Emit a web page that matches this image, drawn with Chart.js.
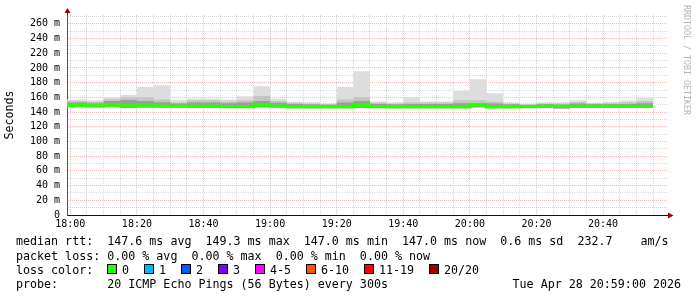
<!DOCTYPE html>
<html>
<head>
<meta charset="utf-8">
<title>SmokePing latency</title>
<script src="https://cdn.jsdelivr.net/npm/chart.js@4.4.1/dist/chart.umd.min.js"></script>
<style>
    html, body { margin: 0; padding: 0; background: #ffffff; }
    #pingChart { display: block; }
</style>
</head>
<body>
<canvas id="pingChart" width="697" height="297"></canvas>
<script>
// 5 minute bins, values in ms
const binStarts = [
    '18:00', '18:05', '18:10', '18:15', '18:20', '18:25', '18:30', '18:35', '18:40', '18:45', '18:50', '18:55',
    '19:00', '19:05', '19:10', '19:15', '19:20', '19:25', '19:30', '19:35', '19:40', '19:45', '19:50', '19:55',
    '20:00', '20:05', '20:10', '20:15', '20:20', '20:25', '20:30', '20:35', '20:40', '20:45', '20:50'
];
const pingMax = [
    157, 156, 160, 163.5, 174, 176.5, 156, 158.5, 158.5, 157, 161.5, 175,
    158, 154, 153, 152, 174, 195.5, 154.5, 153, 160.5, 154.5, 154.5, 168.5,
    184.5, 165.5, 153, 151.5, 153, 153, 156, 152.5, 154, 155.8, 159
];
const pingHigh = [
    155, 154, 157.5, 160, 160, 157, 153, 156, 156, 154.5, 156, 162,
    155, 152.5, 151.5, 151, 157, 160, 152.5, 151.5, 153, 152.5, 152.5, 156,
    156, 154, 151.5, 150.5, 151.5, 151.5, 153.5, 151.5, 152, 153, 155
];
const pingUpper = [
    153, 152, 155, 156.5, 155, 153.5, 151.5, 153, 153, 152, 153, 155,
    152.5, 151, 150.5, 150, 153, 155, 151, 150.5, 151, 151, 151, 152,
    152, 151.5, 150.5, 149.5, 150.5, 150, 151.5, 150.5, 150.5, 151, 152
];
const pingMedian = [
    149, 148.5, 149.3, 148.5, 148.4, 148.2, 148, 148, 148, 147.5, 147.5, 149,
    148.2, 147.2, 147.1, 147.1, 147.2, 149, 147.5, 147.1, 147.2, 147.2, 147.2, 147.2,
    149.3, 147.2, 147.2, 147.5, 147.8, 147.8, 147.8, 147.8, 147.8, 147.8, 147.8
];
const pingLower = [
    147.5, 147, 147.5, 145.5, 146.5, 146.5, 146.5, 146, 146, 146, 146, 147,
    146.5, 146, 146, 146, 146, 145.5, 146, 146, 146, 146, 146, 146,
    146.5, 146, 146, 146, 146, 145, 146, 146, 146, 146, 146
];
const pingMin = [
    146.5, 146, 146.5, 145, 145.5, 145.5, 145.5, 145.5, 145.5, 145.5, 145.5, 146,
    146, 145.5, 145.5, 145.5, 145.5, 145, 145.5, 145.5, 145.5, 145.5, 145.5, 145.5,
    145.5, 145.5, 145.5, 145.5, 145.5, 144.8, 145.5, 145.5, 145.5, 145.5, 145.5
];
const xTickLabels = ['18:00', '18:20', '18:40', '19:00', '19:20', '19:40', '20:00', '20:20', '20:40'];
const yTickLabels = ['0', '20 m', '40 m', '60 m', '80 m', '100 m', '120 m', '140 m', '160 m', '180 m', '200 m', '220 m', '240 m', '260 m'];
const lossLabels = ['0', '1', '2', '3', '4-5', '6-10', '11-19', '20/20'];
const lossColors = ['#26ff00', '#00b8ff', '#0059ff', '#7e00ff', '#ff00ff', '#ff5500', '#ff0000', '#a00000'];

const legendLines = [
    'median rtt:  147.6 ms avg  149.3 ms max  147.0 ms min  147.0 ms now  0.6 ms sd  232.7    am/s',
    'packet loss: 0.00 % avg  0.00 % max  0.00 % min  0.00 % now',
    'loss color:',
    'probe:       20 ICMP Echo Pings (56 Bytes) every 300s'
];
const stampText = 'Tue Apr 28 20:59:00 2026';

const X_MIN = -1;
const X_MAX = 179.5;
const BIN_MINUTES = 5;
const MONO = '"DejaVu Sans Mono", "Liberation Mono", monospace';
const MAJOR_GRID = 'rgba(255, 0, 0, 0.27)';
const MINOR_GRID = 'rgba(110, 110, 110, 0.26)';

function toMinutes(label) {
    const parts = label.split(':');
    return (parseInt(parts[0], 10) - 18) * 60 + parseInt(parts[1], 10);
}

function stepPoints(values) {
    const points = binStarts.map((label, i) => ({
        x: i === 0 ? X_MIN : toMinutes(label),
        y: values[i]
    }));
    const last = binStarts.length - 1;
    points.push({ x: toMinutes(binStarts[last]) + BIN_MINUTES, y: values[last] });
    return points;
}

function bandDatasets(upper, lower, color, upperIndex) {
    const common = {
        stepped: true,
        borderWidth: 0,
        borderColor: 'transparent',
        pointRadius: 0
    };
    return [
        Object.assign({ data: stepPoints(upper), fill: upperIndex + 1, backgroundColor: color }, common),
        Object.assign({ data: stepPoints(lower), fill: false, backgroundColor: color }, common)
    ];
}

const overlayPlugin = {
    id: 'smokeOverlay',
    afterDraw(chart) {
        const ctx = chart.ctx;
        const area = chart.chartArea;
        ctx.save();

        // axis arrows
        ctx.strokeStyle = '#333333';
        ctx.lineWidth = 1;
        ctx.beginPath();
        ctx.moveTo(67.5, area.top);
        ctx.lineTo(67.5, 12);
        ctx.moveTo(area.right, area.bottom + 0.5);
        ctx.lineTo(669, area.bottom + 0.5);
        ctx.stroke();
        ctx.fillStyle = '#990000';
        ctx.beginPath();
        ctx.moveTo(64.5, 13);
        ctx.lineTo(70.5, 13);
        ctx.lineTo(67.5, 8);
        ctx.closePath();
        ctx.fill();
        ctx.beginPath();
        ctx.moveTo(668, 212.5);
        ctx.lineTo(668, 218.5);
        ctx.lineTo(673.5, 215.5);
        ctx.closePath();
        ctx.fill();

        // legend block
        ctx.fillStyle = '#000000';
        ctx.font = '11.66px ' + MONO;
        ctx.textBaseline = 'alphabetic';
        ctx.textAlign = 'left';
        const baselines = [245, 259.5, 273.5, 288];
        legendLines.forEach((line, i) => ctx.fillText(line, 16, baselines[i]));
        ctx.textAlign = 'right';
        ctx.fillText(stampText, 681, baselines[3]);

        const swatchX = [107, 144, 181, 218, 255, 306, 364, 429];
        ctx.textAlign = 'left';
        lossLabels.forEach((label, i) => {
            ctx.fillStyle = lossColors[i];
            ctx.fillRect(swatchX[i], 264, 10, 10);
            ctx.strokeStyle = '#000000';
            ctx.strokeRect(swatchX[i] + 0.5, 264.5, 9, 9);
            ctx.fillStyle = '#000000';
            ctx.fillText(label, swatchX[i] + 15, baselines[2]);
        });

        // rrdtool watermark
        ctx.translate(684, 5);
        ctx.rotate(Math.PI / 2);
        ctx.fillStyle = '#b4b4b4';
        ctx.font = '8.3px ' + MONO;
        ctx.textAlign = 'left';
        ctx.textBaseline = 'alphabetic';
        ctx.fillText('RRDTOOL / TOBI OETIKER', 0, 0);
        ctx.restore();
    }
};

document.addEventListener('DOMContentLoaded', function() {
    const canvas = document.getElementById('pingChart');

    const medianSet = {
        data: stepPoints(pingMedian),
        stepped: true,
        borderColor: lossColors[0],
        borderWidth: 3.3,
        borderCapStyle: 'butt',
        borderJoinStyle: 'miter',
        pointRadius: 0,
        fill: false
    };
    // inner bands first so they are drawn on top of the outer ones
    const datasets = [medianSet]
        .concat(bandDatasets(pingUpper, pingLower, '#9c9c9c', 1))
        .concat(bandDatasets(pingHigh, pingLower, '#c4c4c4', 3))
        .concat(bandDatasets(pingMax, pingMin, '#dddddd', 5));

    new Chart(canvas, {
        type: 'line',
        data: { datasets: datasets },
        options: {
            responsive: false,
            animation: false,
            events: [],
            layout: {
                padding: { left: 0, right: 29, top: 15, bottom: 0 }
            },
            plugins: {
                legend: { display: false },
                tooltip: { enabled: false }
            },
            scales: {
                x: {
                    type: 'linear',
                    min: X_MIN,
                    max: X_MAX,
                    z: 1,
                    afterFit: function(scale) { scale.height = 82; },
                    ticks: {
                        stepSize: 5,
                        includeBounds: false,
                        autoSkip: false,
                        maxRotation: 0,
                        padding: 3,
                        color: '#000000',
                        font: { family: MONO, size: 10 },
                        callback: function(value) {
                            return value % 20 === 0 ? xTickLabels[value / 20] : '';
                        }
                    },
                    grid: {
                        drawTicks: false,
                        lineWidth: 1,
                        color: function(ctx) {
                            return ctx.tick && ctx.tick.value % 20 === 0 ? MAJOR_GRID : MINOR_GRID;
                        }
                    },
                    border: { display: true, color: '#111111', width: 1, dash: [1, 1] }
                },
                y: {
                    type: 'linear',
                    min: 0,
                    max: 272,
                    z: 1,
                    afterFit: function(scale) { scale.width = 67; },
                    title: {
                        display: true,
                        text: 'Seconds',
                        color: '#000000',
                        font: { family: MONO, size: 11.66 },
                        padding: { top: 3, bottom: 0 }
                    },
                    ticks: {
                        stepSize: 10,
                        includeBounds: false,
                        autoSkip: false,
                        padding: 7,
                        color: '#000000',
                        font: { family: MONO, size: 10 },
                        callback: function(value) {
                            return value % 20 === 0 ? yTickLabels[value / 20] : '';
                        }
                    },
                    grid: {
                        drawTicks: false,
                        lineWidth: 1,
                        color: function(ctx) {
                            return ctx.tick && ctx.tick.value % 20 === 0 ? MAJOR_GRID : MINOR_GRID;
                        }
                    },
                    border: { display: true, color: '#555555', width: 1, dash: [1, 1] }
                }
            }
        },
        plugins: [overlayPlugin]
    });
});
</script>
</body>
</html>
